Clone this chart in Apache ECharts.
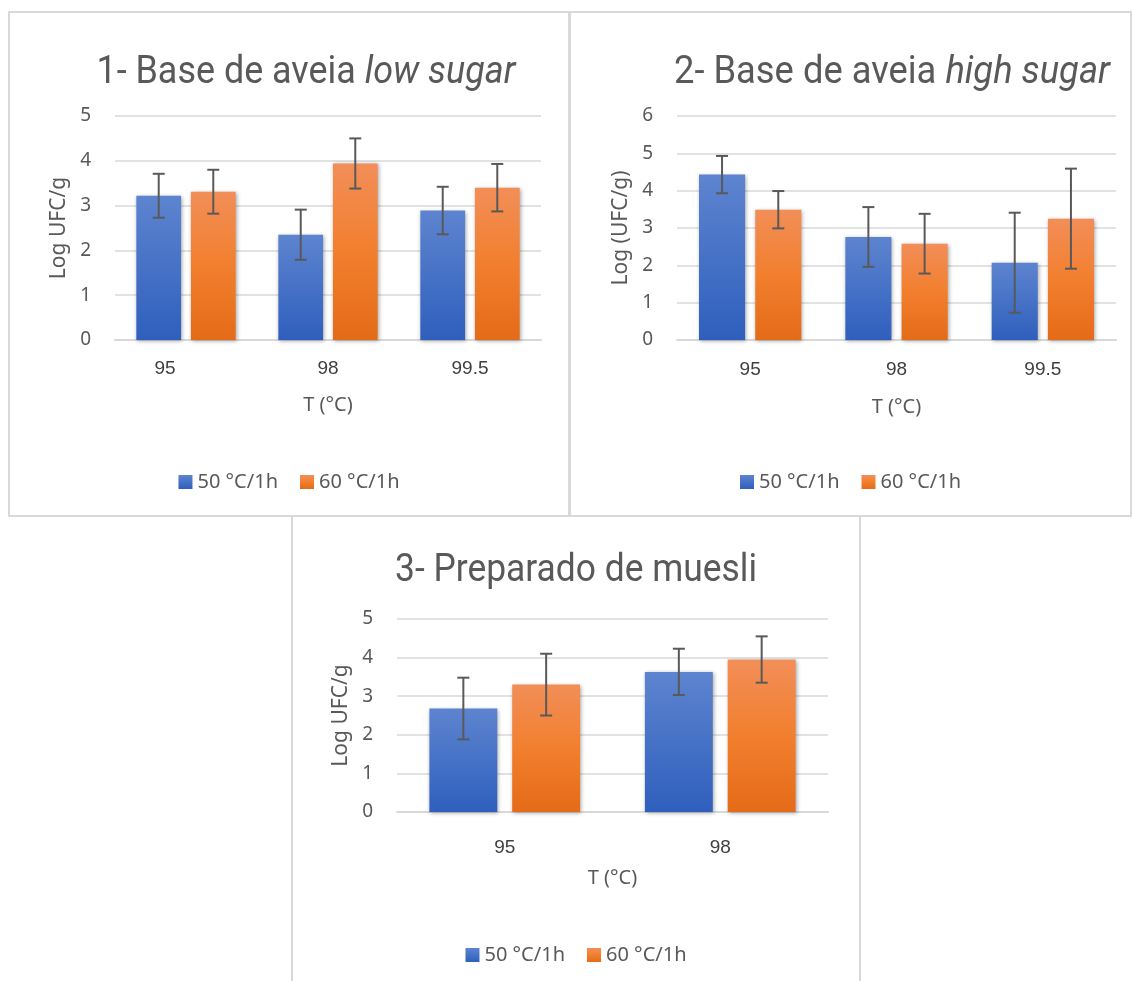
<!DOCTYPE html>
<html>
<head>
<meta charset="utf-8">
<script src="https://cdn.jsdelivr.net/npm/echarts@6/dist/echarts.min.js"></script>
<style>
  body { margin: 0; background: #fff; }
  .panel { position: absolute; box-sizing: border-box; border: 2px solid #d9d9d9; background: #fff; }
  #chart-low { left: 8px; top: 11px; width: 562px; height: 506px; }
  #chart-high { left: 569px; top: 11px; width: 563px; height: 506px; }
  #chart-muesli { left: 291px; top: 515px; width: 570px; height: 475px; }
</style>
</head>
<body>
<div id="chart-low" class="panel"></div>
<div id="chart-high" class="panel"></div>
<div id="chart-muesli" class="panel"></div>
<script>
// 数据
var seriesNames = ['50 °C/1h', '60 °C/1h'];

var lowCats = ['95', '98', '99.5'];
var low50 = [3.22, 2.35, 2.89];
var low60 = [3.31, 3.94, 3.40];
var lowErr50 = [0.49, 0.56, 0.53];
var lowErr60 = [0.49, 0.56, 0.53];

var highCats = ['95', '98', '99.5'];
var high50 = [4.43, 2.76, 2.07];
var high60 = [3.49, 2.58, 3.25];
var highErr50 = [0.50, 0.80, 1.34];
var highErr60 = [0.50, 0.80, 1.34];

var muesliCats = ['95', '98'];
var muesli50 = [2.68, 3.63];
var muesli60 = [3.30, 3.95];
var muesliErr50 = [0.80, 0.60];
var muesliErr60 = [0.80, 0.60];

var BAR_W = 0.315;   // 柱宽 / 类目宽
var BAR_GAP = 0.22;  // 柱间距 / 柱宽
var GREY = '#595959';
var TITLE_FONT = 'Roboto, "DejaVu Sans", sans-serif';
var TITLE_SIZE = 39;
var UI_FONT = '"Noto Sans", "Open Sans", sans-serif';

var blueFill = new echarts.graphic.LinearGradient(0, 0, 0, 1, [
  { offset: 0, color: '#5d84cf' }, { offset: 1, color: '#2f5fbd' }
]);
var orangeFill = new echarts.graphic.LinearGradient(0, 0, 0, 1, [
  { offset: 0, color: '#f28e58' }, { offset: 0.5, color: '#f27f2e' }, { offset: 1, color: '#e46b18' }
]);

// 标题横向压缩, 模拟窄体字
var measureCtx = document.createElement('canvas').getContext('2d');
function textWidth(str, italic) {
  measureCtx.font = (italic ? 'italic ' : '') + TITLE_SIZE + 'px ' + TITLE_FONT;
  return measureCtx.measureText(str).width;
}

function titleGraphic(cfg) {
  var w = textWidth(cfg.title, false) + (cfg.italic ? textWidth(cfg.italic, true) : 0);
  return {
    type: 'text',
    x: cfg.titleX,
    y: cfg.titleY,
    scaleX: cfg.titleW / w,
    silent: true,
    style: {
      text: '{a|' + cfg.title + '}' + (cfg.italic ? '{b|' + cfg.italic + '}' : ''),
      align: 'center',
      verticalAlign: 'middle',
      fontFamily: TITLE_FONT,
      fontSize: TITLE_SIZE,
      fill: GREY,
      rich: {
        a: { fontFamily: TITLE_FONT, fontSize: TITLE_SIZE, fill: GREY },
        b: { fontFamily: TITLE_FONT, fontSize: TITLE_SIZE, fill: GREY, fontStyle: 'italic' }
      }
    }
  };
}

// 误差线
function errorSeries(idx, vals, errs) {
  return {
    type: 'custom',
    z: 5,
    silent: true,
    data: vals.map(function (v, i) { return [i, v - errs[i], v + errs[i]]; }),
    encode: { x: 0, y: [1, 2] },
    renderItem: function (params, api) {
      var x = api.value(0);
      var lo = api.coord([x, api.value(1)]);
      var hi = api.coord([x, api.value(2)]);
      var band = api.size([1, 0])[0];
      var w = band * BAR_W;
      var cx = lo[0] + (idx - 0.5) * (w + w * BAR_GAP);
      var cap = 6;
      var st = { stroke: GREY, lineWidth: 2 };
      return {
        type: 'group',
        children: [
          { type: 'line', shape: { x1: cx, y1: lo[1], x2: cx, y2: hi[1] }, style: st },
          { type: 'line', shape: { x1: cx - cap, y1: hi[1], x2: cx + cap, y2: hi[1] }, style: st },
          { type: 'line', shape: { x1: cx - cap, y1: lo[1], x2: cx + cap, y2: lo[1] }, style: st }
        ]
      };
    }
  };
}

function barSeries(name, vals, fill) {
  return {
    name: name,
    type: 'bar',
    data: vals,
    barWidth: (BAR_W * 100) + '%',
    barGap: (BAR_GAP * 100) + '%',
    itemStyle: {
      color: fill,
      shadowBlur: 4,
      shadowColor: 'rgba(0,0,0,0.35)',
      shadowOffsetX: 1,
      shadowOffsetY: 1
    }
  };
}

function buildOption(cfg) {
  var shifts = cfg.labelShift || [];
  return {
    animation: false,
    graphic: [titleGraphic(cfg)],
    legend: {
      data: seriesNames,
      top: cfg.legendY,
      left: 'center',
      icon: 'rect',
      itemWidth: 14,
      itemHeight: 14,
      itemGap: 22,
      textStyle: { fontFamily: UI_FONT, fontSize: 20, color: GREY }
    },
    grid: cfg.grid,
    xAxis: {
      type: 'category',
      data: cfg.cats.map(function (c, i) {
        return shifts[i] ? { value: c, textStyle: { padding: [0, shifts[i] * 2, 0, 0] } } : c;
      }),
      name: 'T (°C)',
      nameLocation: 'middle',
      nameGap: cfg.nameGapX,
      nameTextStyle: { fontFamily: UI_FONT, fontSize: 20, color: GREY },
      axisLine: { show: true, lineStyle: { color: '#d9d9d9', width: 2 } },
      axisTick: { show: false },
      axisLabel: { margin: cfg.labelGapX, fontFamily: '"Liberation Sans", Arial, sans-serif', fontSize: 19, color: '#404040' }
    },
    yAxis: {
      type: 'value',
      min: 0,
      max: cfg.max,
      interval: 1,
      name: cfg.yName,
      nameLocation: 'middle',
      nameGap: 44,
      nameTextStyle: { fontFamily: UI_FONT, fontSize: 21, color: GREY },
      axisLine: { show: false },
      axisTick: { show: false },
      axisLabel: { margin: 24, fontFamily: UI_FONT, fontSize: 19, color: GREY },
      splitLine: { lineStyle: { color: '#d9d9d9', width: 1.5 } }
    },
    series: [
      barSeries(seriesNames[0], cfg.a, blueFill),
      barSeries(seriesNames[1], cfg.b, orangeFill),
      errorSeries(0, cfg.a, cfg.errA),
      errorSeries(1, cfg.b, cfg.errB)
    ]
  };
}

var chartLow = echarts.init(document.getElementById('chart-low'));
chartLow.setOption(buildOption({
  title: '1- Base de aveia ', italic: 'low sugar', titleX: 296, titleY: 60, titleW: 419,
  legendY: 454,
  grid: { left: 105, right: 27, top: 103, height: 224 },
  cats: lowCats, labelShift: [21, 0, 0], max: 5, yName: 'Log UFC/g', nameGapX: 55, labelGapX: 19,
  a: low50, b: low60, errA: lowErr50, errB: lowErr60
}));

var chartHigh = echarts.init(document.getElementById('chart-high'));
chartHigh.setOption(buildOption({
  title: '2- Base de aveia ', italic: 'high sugar', titleX: 321, titleY: 60, titleW: 436,
  legendY: 454,
  grid: { left: 106, right: 14, top: 103, height: 224 },
  cats: highCats, max: 6, yName: 'Log (UFC/g)', nameGapX: 57, labelGapX: 20,
  a: high50, b: high60, errA: highErr50, errB: highErr60
}));

var chartMuesli = echarts.init(document.getElementById('chart-muesli'));
chartMuesli.setOption(buildOption({
  title: '3- Preparado de muesli', italic: '', titleX: 283, titleY: 54, titleW: 362,
  legendY: 423,
  grid: { left: 104, right: 31, top: 102, height: 193 },
  cats: muesliCats, max: 5, yName: 'Log UFC/g', nameGapX: 56, labelGapX: 26,
  a: muesli50, b: muesli60, errA: muesliErr50, errB: muesliErr60
}));
</script>
</body>
</html>
